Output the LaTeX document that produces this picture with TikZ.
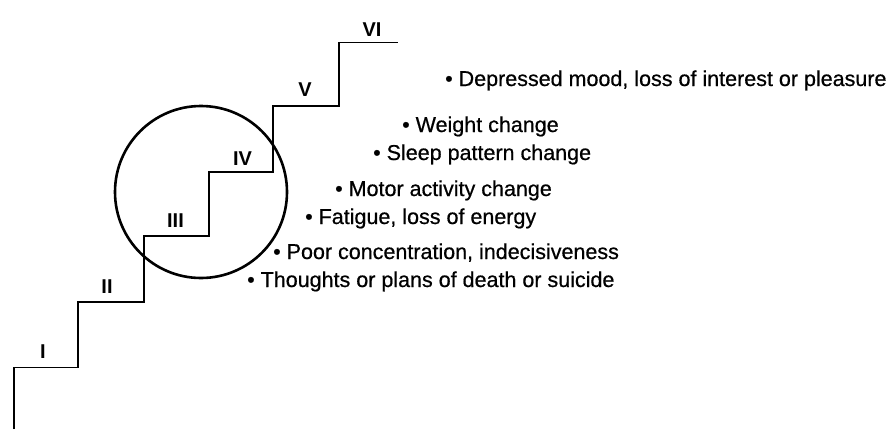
\documentclass[tikz,border=0pt]{standalone}
\usepackage{fontspec}
\setmainfont{Liberation Sans}
\newfontfamily\itemfont[FakeBold=0.6]{Liberation Sans}
\begin{document}
\begin{tikzpicture}[x=1pt,y=-1pt,
  stair/.style={draw=black,line width=1.8pt,line join=miter},
  ring/.style={draw=black,line width=2.6pt},
  steplabel/.style={inner sep=0pt,font=\fontsize{20}{24}\selectfont\bfseries},
  item/.style={inner sep=0pt,anchor=base west,font=\itemfont\fontsize{21.5}{25}\selectfont}]
\useasboundingbox (0,0) rectangle (889,429);
\fill[white] (0,0) rectangle (889,429);
% staircase corners
\coordinate (s0) at (14,429);
\coordinate (s1) at (14,367.5);
\coordinate (s2) at (78,367.5);
\coordinate (s3) at (78,302);
\coordinate (s4) at (144,302);
\coordinate (s5) at (144,236);
\coordinate (s6) at (209,236);
\coordinate (s7) at (209,172);
\coordinate (s8) at (273,172);
\coordinate (s9) at (273,106);
\coordinate (s10) at (339,106);
\coordinate (s11) at (339,42.5);
\coordinate (s12) at (398,42.5);
\draw[stair] (s0) -- (s1) -- (s2) -- (s3) -- (s4) -- (s5) -- (s6) -- (s7) -- (s8) -- (s9) -- (s10) -- (s11) -- (s12);
% circle
\coordinate (c) at (201,192);
\draw[ring] (c) circle[radius=86];
% step labels
\node[steplabel] (l1) at (43,352) {I};
\node[steplabel] (l2) at (107,287) {II};
\node[steplabel] (l3) at (175.5,221) {III};
\node[steplabel] (l4) at (242.5,159) {IV};
\node[steplabel] (l5) at (305,90) {V};
\node[steplabel] (l6) at (372,30) {VI};
% symptoms
\node[item] (t1) at (445,86) {• Depressed mood, loss of interest or pleasure};
\node[item] (t2) at (402,132) {• Weight change};
\node[item] (t3) at (373,160) {• Sleep pattern change};
\node[item] (t4) at (335,196) {• Motor activity change};
\node[item] (t5) at (305,224) {• Fatigue, loss of energy};
\node[item] (t6) at (273,259) {• Poor concentration, indecisiveness};
\node[item] (t7) at (247,287) {• Thoughts or plans of death or suicide};
\end{tikzpicture}
\end{document}
